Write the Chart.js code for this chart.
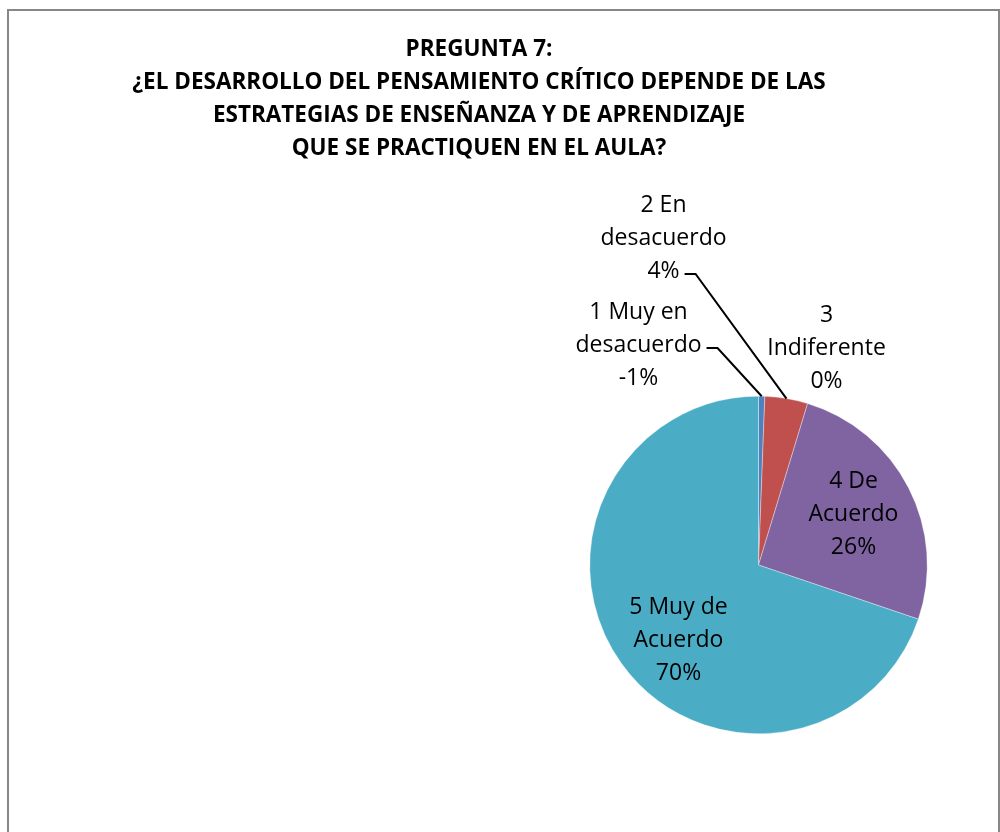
<!DOCTYPE html>
<html>
<head>
<meta charset="utf-8">
<script src="https://cdn.jsdelivr.net/npm/chart.js@4"></script>
<style>
  body { margin: 0; background: #fff; }
  #wrap { position: relative; width: 1000px; height: 832px; overflow: hidden; }
  #frame { position: absolute; left: 7px; top: 9px; width: 989px; height: 900px; border: 2px solid #878787; }
  #title { position: absolute; left: 0; top: 31px; width: 958px; text-align: center;
    font: bold 22.5px "Open Sans", sans-serif; line-height: 33px; color: #000; }
  canvas { position: absolute; left: 0; top: 0; }
</style>
</head>
<body>
<div id="wrap">
  <div id="frame"></div>
  <canvas id="pie" width="1000" height="832"></canvas>
  <div id="title">PREGUNTA 7:<br>¿EL DESARROLLO DEL PENSAMIENTO CRÍTICO DEPENDE DE LAS<br>ESTRATEGIAS DE ENSEÑANZA Y DE APRENDIZAJE<br>QUE SE PRACTIQUEN EN EL AULA?</div>
</div>
<script>
const categories = ["1 Muy en\ndesacuerdo", "2 En\ndesacuerdo", "3\nIndiferente", "4 De\nAcuerdo", "5 Muy de\nAcuerdo"];
const values = [-0.6, 4.1, 0, 25.5, 69.8];
const colors = ["#4F81BD", "#C0504D", "#9BBB59", "#8064A2", "#4BACC6"];

// label placement relative to the pie centre; leader = line index the leader starts from
const placement = [
  { dx: -120, dy: -220, leader: 1 },
  { dx: -95, dy: -327, leader: 2 },
  { dx: 68, dy: -217 },
  { dx: 95, dy: -51 },
  { dx: -80, dy: 75 },
];
const lineH = 33;

const pieLabels = {
  id: "pieLabels",
  afterDatasetsDraw(chart) {
    const ctx = chart.ctx;
    const meta = chart.getDatasetMeta(0);
    ctx.save();
    ctx.font = '23px "Open Sans"';
    ctx.fillStyle = "#000";
    ctx.strokeStyle = "#000";
    ctx.textAlign = "center";
    ctx.textBaseline = "middle";
    meta.data.forEach((arc, i) => {
      const p = arc.getProps(["x", "y", "startAngle", "endAngle", "outerRadius"]);
      const mid = (p.startAngle + p.endAngle) / 2;
      const lines = categories[i].split("\n").concat(Math.round(values[i]) + "%");
      const pl = placement[i];
      const x = p.x + pl.dx;
      const y = p.y + pl.dy;
      lines.forEach((t, k) => ctx.fillText(t, x, y + (k - 1) * lineH));
      if (pl.leader !== undefined) {
        const k = pl.leader;
        const w = ctx.measureText(lines[k]).width;
        const sx = x + w / 2 + 5;
        const sy = y + (k - 1) * lineH + 3;
        ctx.beginPath();
        ctx.moveTo(sx, sy);
        ctx.lineTo(sx + 11, sy);
        ctx.lineTo(p.x + Math.cos(mid) * p.outerRadius, p.y + Math.sin(mid) * p.outerRadius);
        ctx.lineWidth = 2;
        ctx.stroke();
      }
    });
    ctx.restore();
  },
};

new Chart(document.getElementById("pie"), {
  type: "pie",
  data: {
    labels: categories.map((c) => c.replace("\n", " ")),
    datasets: [
      {
        data: values,
        backgroundColor: colors,
        borderColor: "rgba(255,255,255,0.7)",
        borderWidth: 0.5,
        hoverOffset: 0,
      },
    ],
  },
  options: {
    responsive: false,
    animation: false,
    layout: { padding: { left: 589, right: 72, top: 396, bottom: 98 } },
    plugins: {
      legend: { display: false },
      tooltip: { enabled: false },
    },
  },
  plugins: [pieLabels],
});
</script>
</body>
</html>
